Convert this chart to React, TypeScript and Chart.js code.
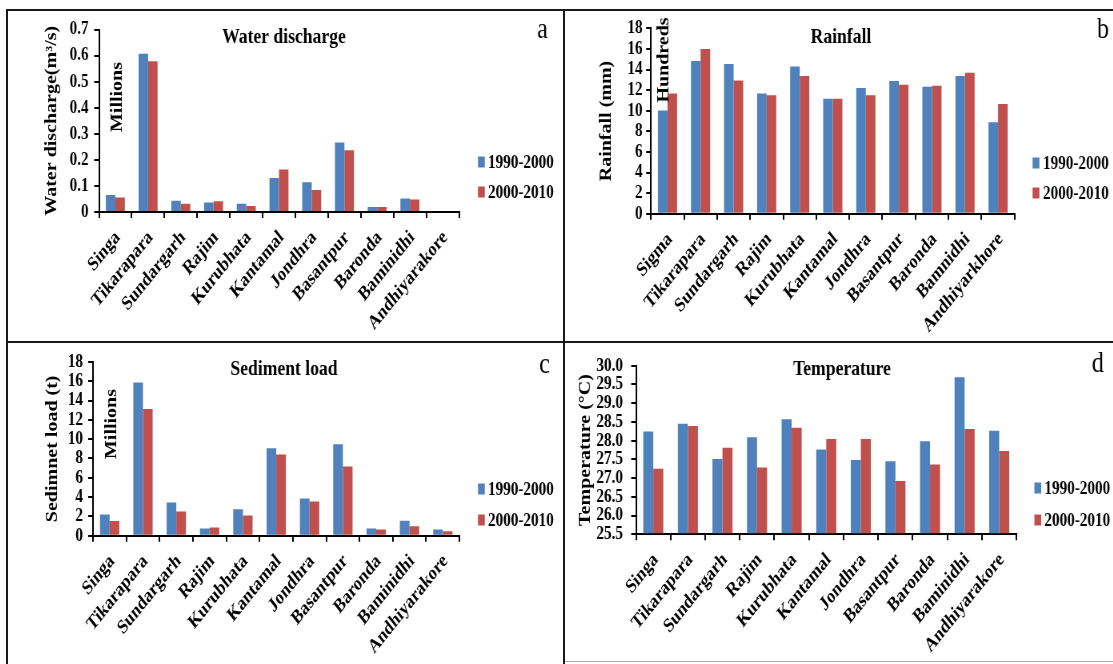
import React, { useEffect, useRef } from "react";
import { Chart, registerables } from "chart.js";

Chart.register(...registerables);

const FONT = "'Liberation Serif', 'Times New Roman', Times, serif";
const SX = 0.8; // horizontal squeeze of the original figure

const seriesLabels = ["1990-2000", "2000-2010"];
const seriesColors = ["#4F81BD", "#C0504D"];

const stations = ["Singa", "Tikarapara", "Sundargarh", "Rajim", "Kurubhata", "Kantamal", "Jondhra", "Basantpur", "Baronda", "Baminidhi", "Andhiyarakore"];
const rainfallStations = ["Sigma", "Tikarapara", "Sundargarh", "Rajim", "Kurubhata", "Kantamal", "Jondhra", "Basantpur", "Baronda", "Bamnidhi", "Andhiyarkhore"];

const discharge1990 = [0.065, 0.607, 0.043, 0.036, 0.032, 0.13, 0.114, 0.267, 0.019, 0.052, 0];
const discharge2000 = [0.056, 0.578, 0.032, 0.041, 0.023, 0.163, 0.084, 0.237, 0.019, 0.048, 0];
const dischargeTicks = ["0", "0.1", "0.2", "0.3", "0.4", "0.5", "0.6", "0.7"];

const rainfall1990 = [10.03, 14.82, 14.53, 11.68, 14.3, 11.17, 12.2, 12.88, 12.33, 13.37, 8.87];
const rainfall2000 = [11.68, 15.99, 12.94, 11.49, 13.37, 11.17, 11.49, 12.52, 12.43, 13.69, 10.65];
const rainfallTicks = ["0", "2", "4", "6", "8", "10", "12", "14", "16", "18"];

const sediment1990 = [2.19, 15.87, 3.43, 0.75, 2.74, 9.05, 3.84, 9.46, 0.75, 1.54, 0.65];
const sediment2000 = [1.51, 13.13, 2.5, 0.86, 2.09, 8.4, 3.53, 7.17, 0.65, 0.99, 0.45];
const sedimentTicks = ["0", "2", "4", "6", "8", "10", "12", "14", "16", "18"];

const temperature1990 = [28.24, 28.45, 27.51, 28.09, 28.57, 27.76, 27.48, 27.45, 27.98, 29.69, 28.26];
const temperature2000 = [27.25, 28.39, 27.81, 27.28, 28.34, 28.04, 28.04, 26.92, 27.36, 28.31, 27.72];
const temperatureTicks = ["25.5", "26.0", "26.5", "27.0", "27.5", "28.0", "28.5", "29.0", "29.5", "30.0"];

type Panel = {
  key: string;
  title: string;
  letter: string;
  unit: string;
  yTitle: string;
  labels: string[];
  series: number[][];
  ticks: string[];
  yMin: number;
  yMax: number;
  step: number;
  box: { left: number; top: number; width: number; height: number };
  plot: { l: number; r: number; t: number; b: number };
  yTitleX: number;
  tickRight: number;
  unitPos: [number, number];
  titlePos: [number, number];
  letterPos: [number, number];
  legendBoxX: number;
  legendTextX: number;
  legendRows: number[];
};

const panels: Panel[] = [
  {
    key: "a",
    title: "Water discharge",
    letter: "a",
    unit: "Millions",
    yTitle: "Water discharge(m³/s)",
    labels: stations,
    series: [discharge1990, discharge2000],
    ticks: dischargeTicks,
    yMin: 0,
    yMax: 0.7,
    step: 0.1,
    box: { left: 9, top: 11, width: 554, height: 330 },
    plot: { l: 99, r: 459, t: 29, b: 212 },
    yTitleX: 52,
    tickRight: 88.5,
    unitPos: [118, 97],
    titlePos: [284, 43],
    letterPos: [542.5, 38],
    legendBoxX: 478,
    legendTextX: 488,
    legendRows: [162, 192],
  },
  {
    key: "b",
    title: "Rainfall",
    letter: "b",
    unit: "Hundreds",
    yTitle: "Rainfall (mm)",
    labels: rainfallStations,
    series: [rainfall1990, rainfall2000],
    ticks: rainfallTicks,
    yMin: 0,
    yMax: 18,
    step: 2,
    box: { left: 566, top: 11, width: 547, height: 330 },
    plot: { l: 651, r: 1014.6, t: 28.3, b: 213.7 },
    yTitleX: 607,
    tickRight: 642.5,
    unitPos: [664, 60],
    titlePos: [841, 43],
    letterPos: [1103, 38],
    legendBoxX: 1032.6,
    legendTextX: 1043,
    legendRows: [163, 193],
  },
  {
    key: "c",
    title: "Sediment load",
    letter: "c",
    unit: "Millions",
    yTitle: "Sedimnet load (t)",
    labels: stations,
    series: [sediment1990, sediment2000],
    ticks: sedimentTicks,
    yMin: 0,
    yMax: 18,
    step: 2,
    box: { left: 9, top: 344, width: 554, height: 320 },
    plot: { l: 93, r: 459.5, t: 360.7, b: 535.7 },
    yTitleX: 53,
    tickRight: 83,
    unitPos: [112, 424],
    titlePos: [284, 375],
    letterPos: [544.5, 373],
    legendBoxX: 478,
    legendTextX: 488,
    legendRows: [489, 520],
  },
  {
    key: "d",
    title: "Temperature",
    letter: "d",
    unit: "",
    yTitle: "Temperature (°C)",
    labels: stations,
    series: [temperature1990, temperature2000],
    ticks: temperatureTicks,
    yMin: 25.5,
    yMax: 30,
    step: 0.5,
    box: { left: 566, top: 344, width: 547, height: 316 },
    plot: { l: 636, r: 1016.5, t: 361.7, b: 534.3 },
    yTitleX: 586,
    tickRight: 623,
    unitPos: [0, 0],
    titlePos: [842, 375],
    letterPos: [1097.7, 372],
    legendBoxX: 1034.4,
    legendTextX: 1044.4,
    legendRows: [488, 520],
  },
];

function ChartPanel({ p }: { p: Panel }) {
  const ref = useRef<HTMLCanvasElement | null>(null);
  const W = Math.round(p.box.width / SX);
  const H = p.box.height;

  useEffect(() => {
    const ix = (x: number) => (x - p.box.left) / SX;
    const iy = (y: number) => y - p.box.top;
    const titleLH = 24;
    const padLeft = ix(p.yTitleX) - titleLH / 2;
    const yWidth = ix(p.plot.l) - padLeft;
    const padRight = W - ix(p.plot.r);
    const padTop = iy(p.plot.t);
    const xHeight = H - iy(p.plot.b);
    const tickLen = 6;
    const yTickPad = Math.max(0, (p.plot.l - p.tickRight) / SX - tickLen);

    const decor = {
      id: "panelDecor" + p.key,
      afterDraw(chart: any) {
        const ctx = chart.ctx as CanvasRenderingContext2D;
        ctx.save();
        ctx.fillStyle = "#000";
        ctx.textAlign = "center";
        ctx.textBaseline = "alphabetic";
        ctx.font = `bold 22px ${FONT}`;
        ctx.fillText(p.title, ix(p.titlePos[0]), iy(p.titlePos[1]));
        ctx.font = `30px ${FONT}`;
        ctx.fillText(p.letter, ix(p.letterPos[0]), iy(p.letterPos[1]));
        if (p.unit) {
          ctx.save();
          ctx.translate(ix(p.unitPos[0]), iy(p.unitPos[1]));
          ctx.rotate(-Math.PI / 2);
          ctx.font = `bold 20px ${FONT}`;
          ctx.textBaseline = "middle";
          ctx.fillText(p.unit, 0, 0);
          ctx.restore();
        }
        chart.data.datasets.forEach((ds: any, i: number) => {
          const y = iy(p.legendRows[i]);
          ctx.fillStyle = ds.backgroundColor;
          ctx.fillRect(ix(p.legendBoxX), y - 5.5, 8.5, 11);
          ctx.fillStyle = "#000";
          ctx.font = `bold 19px ${FONT}`;
          ctx.textAlign = "left";
          ctx.textBaseline = "middle";
          ctx.fillText(ds.label, ix(p.legendTextX), y + 1);
        });
        ctx.restore();
      },
    };

    const chart = new Chart(ref.current as HTMLCanvasElement, {
      type: "bar",
      data: {
        labels: p.labels,
        datasets: p.series.map((vals, i) => ({
          label: seriesLabels[i],
          data: vals,
          backgroundColor: seriesColors[i],
          borderWidth: 0,
          categoryPercentage: 0.58,
          barPercentage: 1.0,
          base: p.yMin,
        })),
      },
      options: {
        responsive: false,
        animation: false,
        devicePixelRatio: 1,
        layout: { padding: { left: padLeft, right: padRight, top: padTop, bottom: 0 } },
        plugins: {
          legend: { display: false },
          title: { display: false },
          tooltip: { enabled: false },
        },
        scales: {
          x: {
            grid: {
              offset: true,
              drawOnChartArea: false,
              drawTicks: true,
              tickLength: tickLen,
              color: "#000",
              lineWidth: 2,
            },
            border: { color: "#000", width: 2 },
            ticks: {
              autoSkip: false,
              minRotation: 45,
              maxRotation: 45,
              color: "#000",
              padding: 8,
              labelOffset: 3,
              font: { family: FONT, size: 20, weight: "bold" },
            },
            afterFit: (s: any) => {
              s.height = xHeight;
            },
          },
          y: {
            min: p.yMin,
            max: p.yMax,
            grid: {
              drawOnChartArea: false,
              drawTicks: true,
              tickLength: tickLen,
              color: "#000",
              lineWidth: 2,
            },
            border: { color: "#000", width: 2 },
            ticks: {
              autoSkip: false,
              stepSize: p.step,
              color: "#000",
              padding: yTickPad,
              font: { family: FONT, size: 19, weight: "bold" },
              callback: (_v: any, idx: number) => p.ticks[idx],
            },
            title: {
              display: true,
              text: p.yTitle,
              color: "#000",
              padding: 0,
              font: { family: FONT, size: 20, weight: "bold", lineHeight: 1.2 },
            },
            afterFit: (s: any) => {
              s.width = yWidth;
            },
          },
        },
      } as any,
      plugins: [decor],
    });
    return () => chart.destroy();
  }, [p, W, H]);

  return (
    <div
      style={{
        position: "absolute",
        left: p.box.left,
        top: p.box.top,
        width: W,
        height: H,
        transform: `scaleX(${SX})`,
        transformOrigin: "0 0",
      }}
    >
      <canvas ref={ref} width={W} height={H} style={{ width: W, height: H, display: "block" }} />
    </div>
  );
}

const line = (left: number, top: number, width: number, height: number, color = "#1a1a1a") => (
  <div style={{ position: "absolute", left, top, width, height, background: color }} />
);

export default function App() {
  return (
    <div
      style={{
        position: "absolute",
        left: 0,
        top: 0,
        width: 1113,
        height: 664,
        background: "#fff",
        overflow: "hidden",
      }}
    >
      {panels.map((p) => (
        <ChartPanel key={p.key} p={p} />
      ))}
      {line(6, 9, 1107, 2)}
      {line(6, 9, 2, 655)}
      {line(563, 9, 2, 655)}
      {line(6, 341, 1107, 2)}
      {line(565, 661, 548, 1, "#b0b0b0")}
    </div>
  );
}
